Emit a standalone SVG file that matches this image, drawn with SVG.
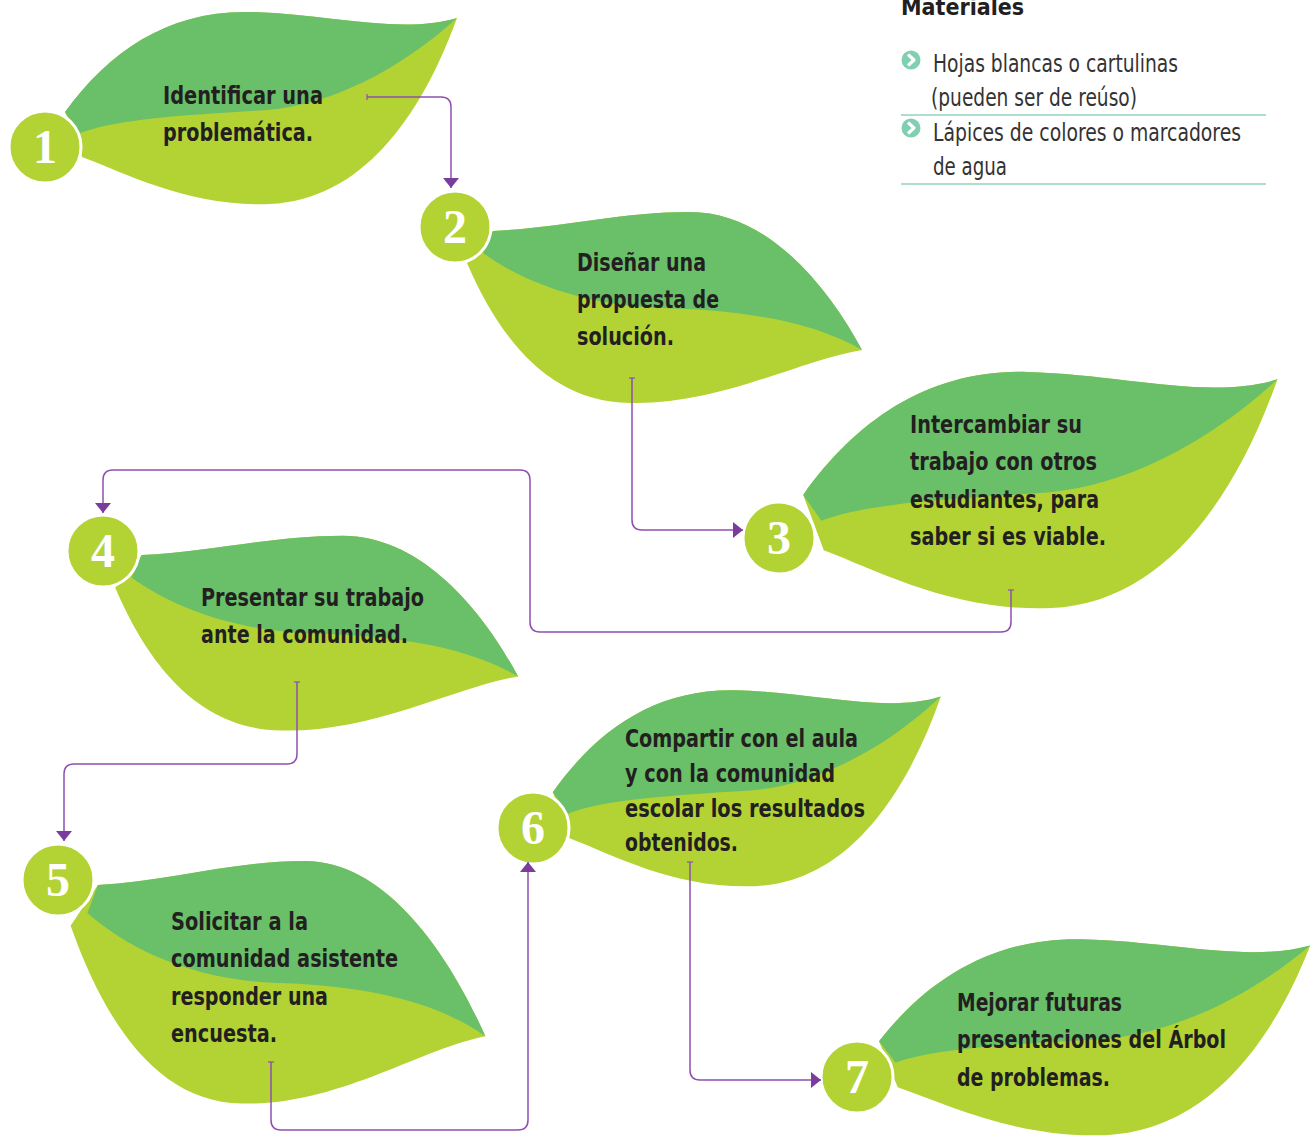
<svg xmlns="http://www.w3.org/2000/svg" xmlns:xlink="http://www.w3.org/1999/xlink" width="1311" height="1137" viewBox="0 0 1311 1137">
<style>
.light{fill:#b3d334}
.dark{fill:#6abf69}
.num{fill:#b3d334;stroke:#ffffff;stroke-width:3}
.digit{font-family:"Liberation Serif","DejaVu Serif",serif;font-size:48px;font-weight:bold;fill:#ffffff;text-anchor:middle}
.lbl{font-family:"Liberation Sans Narrow","DejaVu Sans Condensed","Liberation Sans",sans-serif;font-size:25px;font-weight:bold;fill:#231f20}
.mat{font-family:"Liberation Sans Narrow","DejaVu Sans Condensed","Liberation Sans",sans-serif;font-size:25px;fill:#333333}
.mathead{font-family:"Liberation Sans Narrow","DejaVu Sans Condensed","Liberation Sans",sans-serif;font-size:23px;font-weight:bold;fill:#231f20}
.conn{fill:none;stroke:#8e4fb0;stroke-width:1.5;marker-start:url(#tee);marker-end:url(#arr)}
.rule{stroke:#8fd3bd;stroke-width:1.5}
</style>
<defs>
<path id="aL" d="M20,-35 C65,-97 125,-137 205,-135 C285,-133 355,-112 412,-129 C375,-27 315,53 225,57 C145,60 85,28 37,10 Z"/>
<path id="aD" d="M20,-35 C65,-97 125,-137 205,-135 C285,-133 355,-112 412,-129 C355,-77 285,-42 222,-37 C145,-32 75,-29 35,-14 Z"/>
<path id="bL" d="M38,4 C105,1 165,-15 235,-15 C315,-15 375,63 407,123 C345,133 265,178 175,176 C95,175 45,113 12,36 Z"/>
<path id="bD" d="M38,4 C105,1 165,-15 235,-15 C315,-15 375,63 407,123 C355,93 285,83 205,81 C125,78 65,53 28,26 Z"/>
<marker id="arr" viewBox="0 0 10 16" refX="10" refY="8" markerWidth="10" markerHeight="16" markerUnits="userSpaceOnUse" orient="auto">
<path d="M0,0 L10,8 L0,16 Z" fill="#7b3d9c"/>
</marker>
<marker id="tee" viewBox="0 0 2 6" refX="1" refY="3" markerWidth="2" markerHeight="6" markerUnits="userSpaceOnUse" orient="auto">
<path d="M1,0 V6" stroke="#8e4fb0" stroke-width="1.2"/>
</marker>
<g id="bullet">
<circle cx="0" cy="0" r="9.5" fill="#7fcfb0"/>
<path d="M-3,-5.5 L3,0 L-3,5.5" fill="none" stroke="#ffffff" stroke-width="3.2" stroke-linejoin="round"/>
</g>
</defs>

<g id="materials">
<text class="mathead" x="901" y="15">Materiales</text>
<use xlink:href="#bullet" x="911" y="60"/>
<text class="mat" x="933" y="72" textLength="245" lengthAdjust="spacingAndGlyphs">Hojas blancas o cartulinas</text>
<text class="mat" x="931" y="106" textLength="206" lengthAdjust="spacingAndGlyphs">(pueden ser de reúso)</text>
<line class="rule" x1="901" y1="115" x2="1266" y2="115"/>
<use xlink:href="#bullet" x="911" y="128"/>
<text class="mat" x="933" y="141" textLength="308" lengthAdjust="spacingAndGlyphs">Lápices de colores o marcadores</text>
<text class="mat" x="933" y="175" textLength="74" lengthAdjust="spacingAndGlyphs">de agua</text>
<line class="rule" x1="901" y1="184" x2="1266" y2="184"/>
</g>

<g id="step1">
<g transform="translate(45,147)"><use xlink:href="#aL" class="light"/><use xlink:href="#aD" class="dark"/></g>
<circle class="num" cx="45" cy="147" r="36"/>
<text class="digit" x="45" y="163">1</text>
<text class="lbl" x="163" y="104" textLength="160" lengthAdjust="spacingAndGlyphs">Identificar una</text>
<text class="lbl" x="163" y="141" textLength="150" lengthAdjust="spacingAndGlyphs">problemática.</text>
</g>

<g id="step2">
<g transform="translate(455,227)"><use xlink:href="#bL" class="light"/><use xlink:href="#bD" class="dark"/></g>
<circle class="num" cx="455" cy="227" r="36"/>
<text class="digit" x="455" y="243">2</text>
<text class="lbl" x="577" y="271" textLength="129" lengthAdjust="spacingAndGlyphs">Diseñar una</text>
<text class="lbl" x="577" y="308" textLength="142" lengthAdjust="spacingAndGlyphs">propuesta de</text>
<text class="lbl" x="577" y="345" textLength="97" lengthAdjust="spacingAndGlyphs">solución.</text>
</g>

<g id="step3">
<g transform="translate(779,538) scale(1.21,1.23)"><use xlink:href="#aL" class="light"/><use xlink:href="#aD" class="dark"/></g>
<circle class="num" cx="779" cy="538" r="36"/>
<text class="digit" x="779" y="554">3</text>
<text class="lbl" x="910" y="433" textLength="172" lengthAdjust="spacingAndGlyphs">Intercambiar su</text>
<text class="lbl" x="910" y="470" textLength="187" lengthAdjust="spacingAndGlyphs">trabajo con otros</text>
<text class="lbl" x="910" y="508" textLength="189" lengthAdjust="spacingAndGlyphs">estudiantes, para</text>
<text class="lbl" x="910" y="545" textLength="196" lengthAdjust="spacingAndGlyphs">saber si es viable.</text>
</g>

<g id="step4">
<g transform="translate(103,551) scale(1.02,1.02)"><use xlink:href="#bL" class="light"/><use xlink:href="#bD" class="dark"/></g>
<circle class="num" cx="103" cy="551" r="36"/>
<text class="digit" x="103" y="567">4</text>
<text class="lbl" x="201" y="606" textLength="223" lengthAdjust="spacingAndGlyphs">Presentar su trabajo</text>
<text class="lbl" x="201" y="643" textLength="207" lengthAdjust="spacingAndGlyphs">ante la comunidad.</text>
</g>

<g id="step5">
<g transform="translate(58,880) scale(1.05,1.27)"><use xlink:href="#bL" class="light"/><use xlink:href="#bD" class="dark"/></g>
<circle class="num" cx="58" cy="880" r="36"/>
<text class="digit" x="58" y="896">5</text>
<text class="lbl" x="171" y="930" textLength="137" lengthAdjust="spacingAndGlyphs">Solicitar a la</text>
<text class="lbl" x="171" y="967" textLength="227" lengthAdjust="spacingAndGlyphs">comunidad asistente</text>
<text class="lbl" x="171" y="1005" textLength="157" lengthAdjust="spacingAndGlyphs">responder una</text>
<text class="lbl" x="171" y="1042" textLength="106" lengthAdjust="spacingAndGlyphs">encuesta.</text>
</g>

<g id="step6">
<g transform="translate(533,828) scale(0.99,1.02)"><use xlink:href="#aL" class="light"/><use xlink:href="#aD" class="dark"/></g>
<circle class="num" cx="533" cy="828" r="36"/>
<text class="digit" x="533" y="844">6</text>
<text class="lbl" x="625" y="747" textLength="233" lengthAdjust="spacingAndGlyphs">Compartir con el aula</text>
<text class="lbl" x="625" y="782" textLength="210" lengthAdjust="spacingAndGlyphs">y con la comunidad</text>
<text class="lbl" x="625" y="817" textLength="240" lengthAdjust="spacingAndGlyphs">escolar los resultados</text>
<text class="lbl" x="625" y="851" textLength="113" lengthAdjust="spacingAndGlyphs">obtenidos.</text>
</g>

<g id="step7">
<g transform="translate(857,1077) scale(1.1,1.02)"><use xlink:href="#aL" class="light"/><use xlink:href="#aD" class="dark"/></g>
<circle class="num" cx="857" cy="1077" r="36"/>
<text class="digit" x="857" y="1093">7</text>
<text class="lbl" x="957" y="1011" textLength="165" lengthAdjust="spacingAndGlyphs">Mejorar futuras</text>
<text class="lbl" x="957" y="1048" textLength="269" lengthAdjust="spacingAndGlyphs">presentaciones del Árbol</text>
<text class="lbl" x="957" y="1086" textLength="153" lengthAdjust="spacingAndGlyphs">de problemas.</text>
</g>

<g id="connectors">
<path class="conn" d="M367,97 H441 Q451,97 451,107 V188"/>
<path class="conn" d="M632,378 V520 Q632,530 642,530 H743"/>
<path class="conn" d="M1011,590 V622 Q1011,632 1001,632 H540 Q530,632 530,622 V480 Q530,470 520,470 H113 Q103,470 103,480 V513"/>
<path class="conn" d="M297,682 V754 Q297,764 287,764 H74 Q64,764 64,774 V841"/>
<path class="conn" d="M271,1062 V1120 Q271,1130 281,1130 H518 Q528,1130 528,1120 V862"/>
<path class="conn" d="M690,862 V1070 Q690,1080 700,1080 H821"/>
</g>
</svg>
